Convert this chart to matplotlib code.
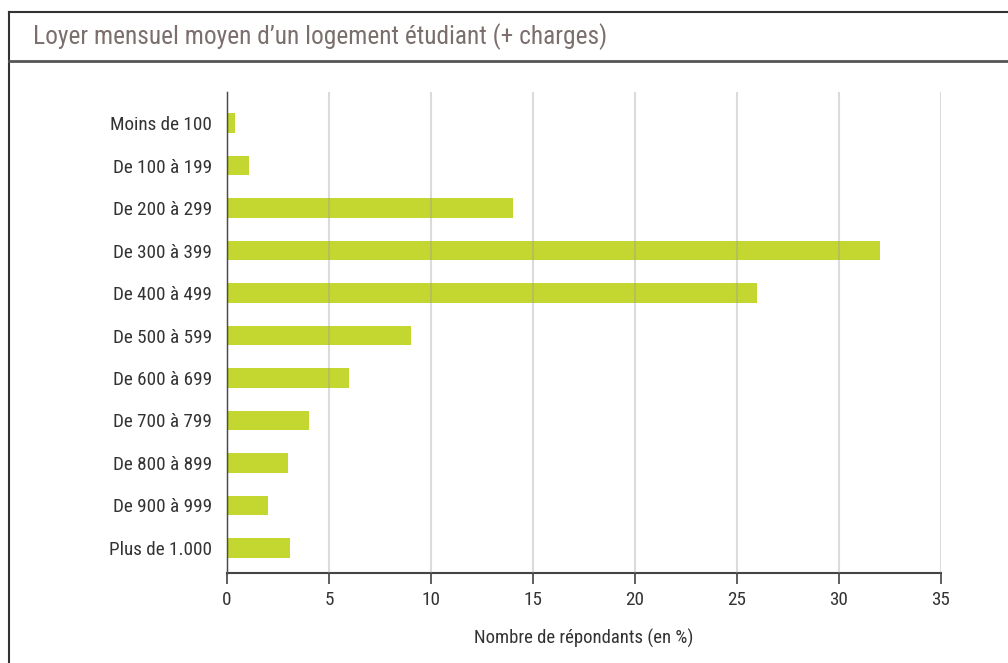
import matplotlib.pyplot as plt
from matplotlib.lines import Line2D

# Data
categories = [
    "Moins de 100", "De 100 à 199", "De 200 à 299", "De 300 à 399",
    "De 400 à 499", "De 500 à 599", "De 600 à 699", "De 700 à 799",
    "De 800 à 899", "De 900 à 999", "Plus de 1.000",
]
values = [0.4, 1.1, 14, 32, 26, 9, 6, 4, 3, 2, 3.1]
xticks = [0, 5, 10, 15, 20, 25, 30, 35]

title = "Loyer mensuel moyen d\u2019un logement étudiant (+ charges)"
xlabel = "Nombre de répondants (en %)"

plt.rcParams["font.family"] = ["Roboto Condensed", "Archivo Narrow",
                               "IBM Plex Sans Condensed", "DejaVu Sans"]

fig = plt.figure(figsize=(10.08, 6.63), dpi=100)
ax = fig.add_axes([0.2252, 0.1357, 0.7083, 0.7255])

ypos = list(range(len(categories)))
ax.barh(ypos, values, height=0.45, color="#c3d730", zorder=2)

ax.set_xlim(0, 35)
ax.set_ylim(10.59, -0.73)
ax.set_xticks(xticks)
ax.set_xticklabels([str(t) for t in xticks])
ax.set_yticks(ypos)
ax.set_yticklabels(categories)

ax.grid(axis="x", color="#999999", alpha=0.35, linewidth=1.5, zorder=3)
ax.set_axisbelow(False)

for side in ["top", "right"]:
    ax.spines[side].set_visible(False)
ax.spines["left"].set_color("#222222")
ax.spines["left"].set_linewidth(1.0)
ax.spines["bottom"].set_color("#444444")
ax.spines["bottom"].set_linewidth(1.5)

ax.tick_params(axis="y", length=0, pad=11, labelsize=13.8, labelcolor="#333333")
ax.tick_params(axis="x", length=8, width=1.2, color="#444444", pad=5,
               labelsize=13.8, labelcolor="#333333")

ax.set_xlabel(xlabel, fontsize=13.5, color="#333333", labelpad=14)

# frame and title band
fig.add_artist(Line2D([9 / 1008, 1], [1 - 12 / 663, 1 - 12 / 663],
                      transform=fig.transFigure, color="#333333", linewidth=1.5))
fig.add_artist(Line2D([9 / 1008, 9 / 1008], [0, 1 - 12 / 663],
                      transform=fig.transFigure, color="#333333", linewidth=1.5))
fig.add_artist(Line2D([9 / 1008, 1], [1 - 61 / 663, 1 - 61 / 663],
                      transform=fig.transFigure, color="#555555", linewidth=2))
fig.text(33 / 1008, 1 - 37 / 663, title, fontsize=18.3, color="#7b6f6d",
         va="center", ha="left")

fig.savefig("out.png", dpi=100)
